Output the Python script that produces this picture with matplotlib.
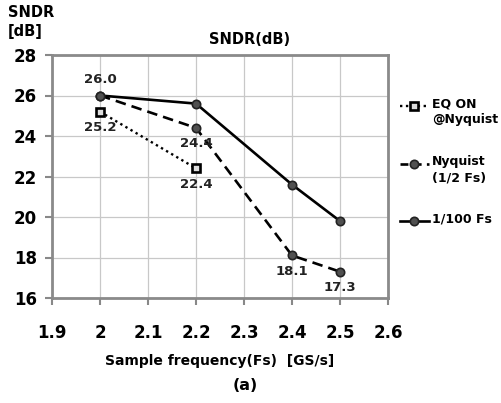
import matplotlib
matplotlib.use("Agg")
import matplotlib.pyplot as plt
from matplotlib.lines import Line2D

x_eq = [2.0, 2.2]
y_eq = [25.2, 22.4]
x_nyq = [2.0, 2.2, 2.4, 2.5]
y_nyq = [26.0, 24.4, 18.1, 17.3]
x_100 = [2.0, 2.2, 2.4, 2.5]
y_100 = [26.0, 25.6, 21.6, 19.8]
labels = ["EQ ON\n@Nyquist", "Nyquist\n(1/2 Fs)", "1/100 Fs"]
xticks = [1.9, 2.0, 2.1, 2.2, 2.3, 2.4, 2.5, 2.6]
xticklabels = ["1.9", "2", "2.1", "2.2", "2.3", "2.4", "2.5", "2.6"]
yticks = [16, 18, 20, 22, 24, 26, 28]

plt.rcParams['font.family'] = ['DejaVu Sans']
W, H = 502, 403
fig = plt.figure(figsize=(5.02, 4.03), dpi=100)
ax = fig.add_axes([52/W, 1-298/H, 336/W, 243/H])

circ = dict(marker='o', markersize=6, markerfacecolor='#505050', markeredgecolor='#222222', markeredgewidth=1.2)
sq = dict(marker='s', markersize=5.5, markerfacecolor='#dddddd', markeredgecolor='black', markeredgewidth=1.9)
ls_eq = (0, (1, 1.5))
ls_nyq = (0, (4, 2.3))
ax.plot(x_100, y_100, color='black', lw=1.9, ls='-', **circ, zorder=3)
ax.plot(x_nyq, y_nyq, color='black', lw=1.9, ls=ls_nyq, **circ, zorder=3)
ax.plot(x_eq, y_eq, color='black', lw=1.7, ls=ls_eq, **sq, zorder=4)

ax.set_xlim(1.9, 2.6)
ax.set_ylim(16, 28)
ax.set_xticks(xticks)
ax.set_xticklabels(xticklabels, fontsize=12, fontweight='bold')
ax.set_yticks(yticks)
ax.set_yticklabels([str(v) for v in yticks], fontsize=12, fontweight='bold')
ax.tick_params(axis='x', direction='out', length=5, width=1.5, color='#888888', pad=14)
ax.tick_params(axis='y', direction='out', length=5, width=1.5, color='#888888', pad=6)
ax.grid(True, color='#c8c8c8', lw=0.9)
ax.set_axisbelow(True)
for s in ax.spines.values():
    s.set_color('#8a8a8a')
    s.set_linewidth(2)

ann = dict(fontsize=9.5, fontweight='bold', ha='center', color='#222222')
ax.text(2.0, 26.0 + 0.45, "26.0", va='bottom', **ann)
ax.text(2.0, 25.2 - 0.45, "25.2", va='top', **ann)
ax.text(2.2, 24.4 - 0.45, "24.4", va='top', **ann)
ax.text(2.2, 22.4 - 0.45, "22.4", va='top', **ann)
ax.text(2.4, 18.1 - 0.45, "18.1", va='top', **ann)
ax.text(2.5, 17.3 - 0.45, "17.3", va='top', **ann)

ax.set_xlabel("Sample frequency(Fs)  [GS/s]", fontsize=10, fontweight='bold', labelpad=8)
fig.text(250/W, 1-40/H, "SNDR(dB)", fontsize=10.5, fontweight='bold', ha='center', va='center')
fig.text(8/W, 1-22/H, "SNDR\n[dB]", fontsize=10.5, fontweight='bold', ha='left', va='center', linespacing=1.3)
fig.text(245/W, 1-385/H, "(a)", fontsize=11.5, fontweight='bold', ha='center', va='center')

# legend (marker aligned with first text line, as in the reference)
mkeys = ('marker', 'markersize', 'markerfacecolor', 'markeredgecolor', 'markeredgewidth')
leg_y = [106, 164, 221]
leg_styles = [dict(lw=1.7, ls=ls_eq, **sq), dict(lw=1.9, ls=(0, (3, 2)), **circ), dict(lw=1.9, ls='-', **circ)]
for yy, lab, st in zip(leg_y, labels, leg_styles):
    yf = 1 - yy/H
    fig.add_artist(Line2D([400/W, 429/W], [yf, yf], color='black',
                          **{k: v for k, v in st.items() if k not in mkeys}))
    fig.add_artist(Line2D([414/W], [yf], ls='none', **{k: v for k, v in st.items() if k in mkeys}))
    fig.text(432/W, 1-(yy-8.5)/H, lab, fontsize=9, fontweight='bold', ha='left', va='top', linespacing=1.3)

fig.savefig("out.png", dpi=100)
